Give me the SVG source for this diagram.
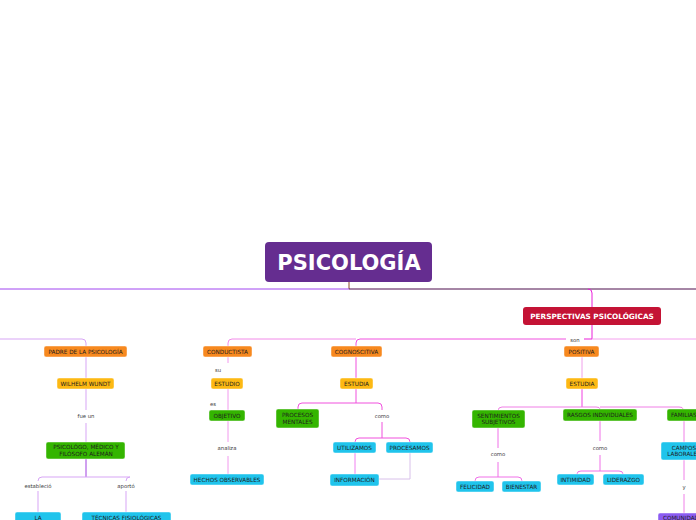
<svg xmlns="http://www.w3.org/2000/svg" width="696" height="520" viewBox="0 0 696 520">
<style>
.n{stroke:#fff;stroke-opacity:.45;stroke-width:1}
.o{fill:#f7891f}.y{fill:#fdb913}.g{fill:#34b500}.c{fill:#20c4ec}.p{fill:#8c5cf2}
.t{font-family:"DejaVu Sans",Verdana,sans-serif;font-size:5.7px;fill:#1e1e1e;text-anchor:middle}
.l{font-family:"DejaVu Sans",Verdana,sans-serif;font-size:5.3px;fill:#3a3a3a;text-anchor:middle}
.e{fill:none;stroke-width:1}
</style>
<rect width="696" height="520" fill="#fff"/>
<g id="connectors">
<path class="e" d="M349 282V289" stroke="#8b4a2b"/>
<path class="e" d="M0 289H349" stroke="#a044f0"/>
<path class="e" d="M349 289H696" stroke="#4d0c4d"/>
<path class="e" d="M588 289Q592 289 592 293V307" stroke="#ea1fd9"/>
<path class="e" d="M592 325V339" stroke="#ea1fd9"/>
<path class="e" d="M592 339H696" stroke="#f5a0ee"/>
<path class="e" d="M0 339H82Q86 339 86 343V346" stroke="#d7a5f5"/>
<path class="e" d="M356 339H232Q228 339 228 343V346" stroke="#f28ae9"/>
<path class="e" d="M566 339H360Q356 339 356 343V346" stroke="#f050df"/>
<path class="e" d="M584 339H592" stroke="#ea1fd9"/>
<path class="e" d="M86 357V378M86 389V410M86 423V442" stroke="#d7a5f5"/>
<path class="e" d="M86 459V477" stroke="#a040e0"/>
<path class="e" d="M42 477Q38 477 38 481M130 477Q126 477 126 481M42 477H130M38 491V512M126 491V512" stroke="#d7a5f5"/>
<path class="e" d="M228 357V363M228 389V410M228 421V442M228 456V474" stroke="#f29aee"/>
<path class="e" d="M356 357V378M356 389V403M356 403H302Q298 403 298 407V409M356 403H378Q382 403 382 407V410M382 422V438M382 438H359Q355 438 355 442M382 438H406Q410 438 410 442" stroke="#f050dd"/>
<path class="e" d="M355 453V474" stroke="#f080f0"/>
<path class="e" d="M410 453V479H379" stroke="#d8c0ea"/>
<path class="e" d="M582 357V378" stroke="#f0a0ea"/>
<path class="e" d="M582 389V407" stroke="#f040e0"/>
<path class="e" d="M582 407H502Q498 407 498 411M582 407H596Q600 407 600 409M600 407H679Q683 407 683 409" stroke="#f07ee6"/>
<path class="e" d="M498 428V448M498 462V477M498 477H479Q475 477 475 481M498 477H518Q522 477 522 481" stroke="#f070e8"/>
<path class="e" d="M600 421V441M600 455V471M600 471H581Q577 471 577 474M600 471H619Q623 471 623 474" stroke="#f070e8"/>
<path class="e" d="M684 421V442M684 460V480M684 494V513" stroke="#f080e8"/>
</g>
<g id="labels">
<text class="l" x="86" y="418">fue un</text>
<text class="l" x="38" y="488">estableció</text>
<text class="l" x="126" y="488">aportó</text>
<text class="l" x="218" y="372">su</text>
<text class="l" x="213" y="406">es</text>
<text class="l" x="227" y="450">analiza</text>
<text class="l" x="382" y="418">como</text>
<text class="l" x="575" y="342">son</text>
<text class="l" x="498" y="456">como</text>
<text class="l" x="600" y="450">como</text>
<text class="l" x="684" y="489">y</text>
</g>
<g id="title"><rect x="265" y="242" width="167" height="40" rx="4" fill="#652d90"/><text x="349" y="270" font-family="DejaVu Sans,Verdana,sans-serif" font-size="21" font-weight="bold" fill="#fff" text-anchor="middle">PSICOLOGÍA</text></g>
<g id="perspectivas"><rect x="523" y="307" width="138" height="18" rx="3" fill="#c41335"/><text x="592" y="318.5" font-family="DejaVu Sans,Verdana,sans-serif" font-size="7.3" font-weight="bold" fill="#fff" text-anchor="middle">PERSPECTIVAS PSICOLÓGICAS</text></g>
<g id="padre"><rect class="n o" x="44" y="346" width="83" height="11" rx="2"/><text class="t" x="85.5" y="353.6">PADRE DE LA PSICOLOGÍA</text></g>
<g id="wundt"><rect class="n y" x="57" y="378" width="57" height="11" rx="2"/><text class="t" x="85.5" y="385.6">WILHELM WUNDT</text></g>
<g id="psicologo"><rect class="n g" x="46" y="442" width="79" height="17" rx="2"/><text class="t" x="86" y="449">PSICOLÓGO, MÉDICO Y</text><text class="t" x="86" y="455.7">FILÓSOFO ALEMÁN</text></g>
<g id="la"><rect class="n c" x="15" y="512" width="46" height="14" rx="2"/><text class="t" x="38" y="519.6">LA</text></g>
<g id="tecnicas"><rect class="n c" x="82" y="512" width="89" height="14" rx="2"/><text class="t" x="126.5" y="519.6">TÉCNICAS FISIOLÓGICAS</text></g>
<g id="conductista"><rect class="n o" x="203" y="346" width="49" height="11" rx="2"/><text class="t" x="227.5" y="353.6">CONDUCTISTA</text></g>
<g id="estudio"><rect class="n y" x="211" y="378" width="32" height="11" rx="2"/><text class="t" x="227" y="385.6">ESTUDIO</text></g>
<g id="objetivo"><rect class="n g" x="209" y="410" width="36" height="11" rx="2"/><text class="t" x="227" y="417.6">OBJETIVO</text></g>
<g id="hechos"><rect class="n c" x="190" y="474" width="74" height="11" rx="2"/><text class="t" x="227" y="481.6">HECHOS OBSERVABLES</text></g>
<g id="cognoscitiva"><rect class="n o" x="331" y="346" width="51" height="11" rx="2"/><text class="t" x="356.5" y="353.6">COGNOSCITIVA</text></g>
<g id="estudia1"><rect class="n y" x="340" y="378" width="33" height="11" rx="2"/><text class="t" x="356.5" y="385.6">ESTUDIA</text></g>
<g id="procesos"><rect class="n g" x="276" y="409" width="43" height="19" rx="2"/><text class="t" x="297.5" y="417">PROCESOS</text><text class="t" x="297.5" y="423.7">MENTALES</text></g>
<g id="utilizamos"><rect class="n c" x="333" y="442" width="43" height="11" rx="2"/><text class="t" x="354.5" y="449.6">UTILIZAMOS</text></g>
<g id="procesamos"><rect class="n c" x="386" y="442" width="47" height="11" rx="2"/><text class="t" x="409.5" y="449.6">PROCESAMOS</text></g>
<g id="informacion"><rect class="n c" x="330" y="474" width="49" height="12" rx="2"/><text class="t" x="354.5" y="482">INFORMACIÓN</text></g>
<g id="positiva"><rect class="n o" x="564" y="346" width="35" height="11" rx="2"/><text class="t" x="581.5" y="353.6">POSITIVA</text></g>
<g id="estudia2"><rect class="n y" x="566" y="378" width="32" height="11" rx="2"/><text class="t" x="582" y="385.6">ESTUDIA</text></g>
<g id="sentimientos"><rect class="n g" x="472" y="410" width="53" height="18" rx="2"/><text class="t" x="498.5" y="417.5">SENTIMIENTOS</text><text class="t" x="498.5" y="424.2">SUBJETIVOS</text></g>
<g id="rasgos"><rect class="n g" x="563" y="409" width="74" height="12" rx="2"/><text class="t" x="600" y="417">RASGOS INDIVIDUALES</text></g>
<g id="familias"><rect class="n g" x="667" y="409" width="40" height="12" rx="2"/><text class="t" x="671" y="417" style="text-anchor:start">FAMILIAS</text></g>
<g id="felicidad"><rect class="n c" x="456" y="481" width="38" height="11" rx="2"/><text class="t" x="475" y="488.6">FELICIDAD</text></g>
<g id="bienestar"><rect class="n c" x="502" y="481" width="39" height="11" rx="2"/><text class="t" x="521.5" y="488.6">BIENESTAR</text></g>
<g id="intimidad"><rect class="n c" x="557" y="474" width="37" height="11" rx="2"/><text class="t" x="575.5" y="481.6">INTIMIDAD</text></g>
<g id="liderazgo"><rect class="n c" x="603" y="474" width="41" height="11" rx="2"/><text class="t" x="623.5" y="481.6">LIDERAZGO</text></g>
<g id="campos"><rect class="n c" x="661" y="442" width="46" height="18" rx="2"/><text class="t" x="684" y="449.5">CAMPOS</text><text class="t" x="684" y="456.2">LABORALES</text></g>
<g id="comunidad"><rect class="n p" x="658" y="513" width="50" height="14" rx="2"/><text class="t" x="663" y="520" style="text-anchor:start">COMUNIDAD</text></g>
</svg>
